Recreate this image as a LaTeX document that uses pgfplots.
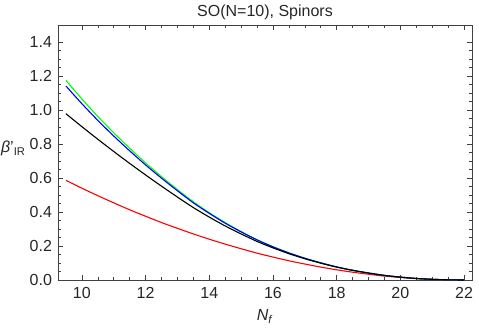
\documentclass[border=0pt]{standalone}
\usepackage{fontspec}
\setmainfont{Liberation Sans}
\usepackage{pgfplots}
\usepackage{pgfplotstable}
\pgfplotsset{compat=1.18}

% beta'_IR, one column per curve
\pgfplotstableread{
Nf    red    black  blue   green
9.5   0.586  0.978  1.141  1.174
10.0  0.540  0.902  1.037  1.065
10.5  0.496  0.828  0.939  0.962
11.0  0.454  0.756  0.847  0.866
11.5  0.413  0.686  0.760  0.775
12.0  0.375  0.618  0.677  0.689
12.5  0.338  0.552  0.599  0.608
13.0  0.304  0.488  0.525  0.532
13.5  0.271  0.426  0.454  0.460
14.0  0.240  0.370  0.392  0.396
14.5  0.211  0.318  0.334  0.338
15.0  0.184  0.271  0.283  0.285
15.5  0.158  0.227  0.236  0.237
16.0  0.135  0.189  0.195  0.196
16.5  0.113  0.155  0.159  0.160
17.0  0.094  0.125  0.128  0.128
17.5  0.076  0.099  0.101  0.101
18.0  0.060  0.076  0.077  0.077
18.5  0.046  0.057  0.057  0.057
19.0  0.034  0.041  0.041  0.041
19.5  0.023  0.027  0.027  0.027
20.0  0.015  0.017  0.017  0.017
20.5  0.008  0.009  0.009  0.009
21.0  0.004  0.004  0.004  0.004
21.5  0.001  0.001  0.001  0.001
22.0  0.000  0.000  0.000  0.000
}\betair

\begin{document}
\fontsize{16}{18}\selectfont
\begin{tikzpicture}[x=1pt,y=1pt]
\useasboundingbox (-58,-47) rectangle (421,280);
\begin{axis}[
    at={(0,0)}, anchor=south west,
    scale only axis, width=414pt, height=255pt,
    xmin=9.25, xmax=22.25, ymin=0, ymax=1.5,
    xtick={10,12,14,16,18,20,22},
    ytick={0,0.2,0.4,0.6,0.8,1.0,1.2,1.4},
    minor tick num=3,
    tick align=inside,
    major tick length=5pt, minor tick length=2.8pt,
    axis line style={black!75, line width=0.7pt},
    tick style={black!75, line width=0.6pt},
    tick label style={font=\fontsize{16}{18}\selectfont, text=black!85},
    x tick label style={yshift=-2pt, /pgf/number format/assume math mode=true},
    y tick label style={xshift=-0.5pt, /pgf/number format/.cd, fixed, fixed zerofill, precision=1, assume math mode=true},
    every axis title shift=0pt,
    title={SO(N=10), Spinors},
    title style={at={(0.5,1.05)}, anchor=center, font=\fontsize{16}{18}\selectfont, text=black!85},
    xlabel={\textit{N}\textsubscript{\textit{f}}},
    xlabel style={at={(0.5,-0.142)}, anchor=center, font=\fontsize{16}{18}\selectfont, text=black!85},
    ylabel={\textit{β}'\textsubscript{IR}},
    ylabel style={at={(-0.108,0.515)}, anchor=center, rotate=-90, font=\fontsize{16}{18}\selectfont, text=black!85},
]
\addplot[red, line width=1.1pt, smooth] table[x=Nf, y=red] {\betair};
\addplot[green, line width=1.1pt, smooth] table[x=Nf, y=green] {\betair};
\addplot[blue, line width=1.1pt, smooth] table[x=Nf, y=blue] {\betair};
\addplot[black, line width=1.1pt, smooth] table[x=Nf, y=black] {\betair};
\end{axis}
\end{tikzpicture}
\end{document}
